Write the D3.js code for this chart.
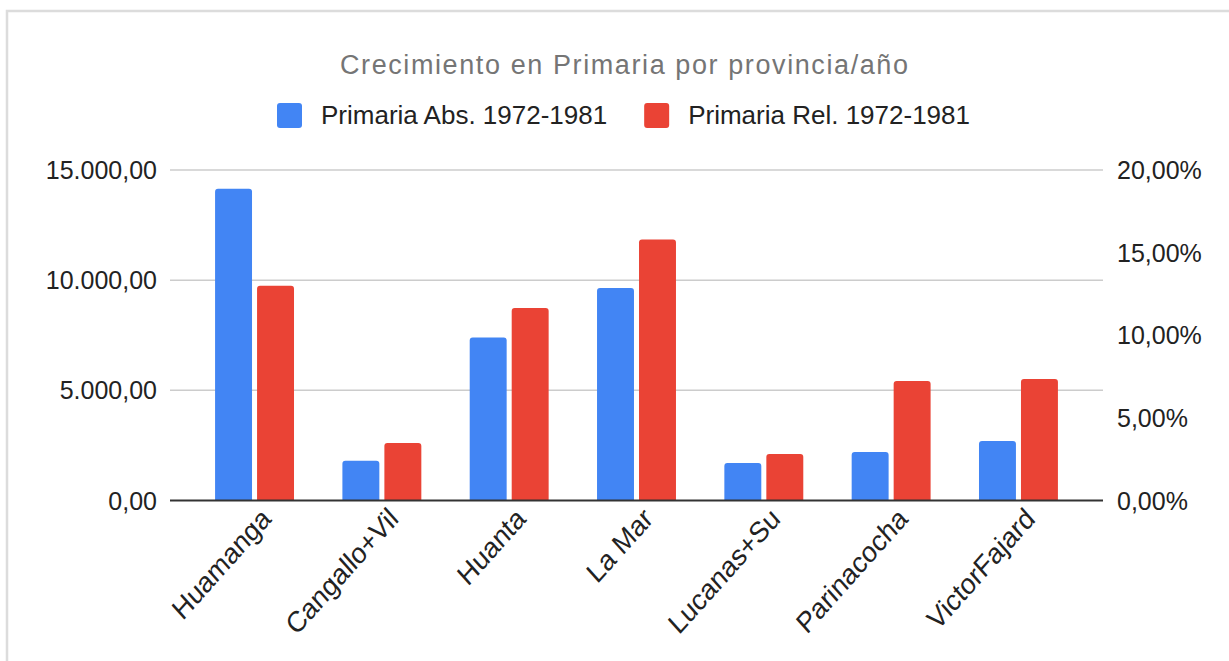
<!DOCTYPE html>
<html>
<head>
<meta charset="utf-8">
<script src="https://cdn.jsdelivr.net/npm/d3@7"></script>
<style>
  html, body { margin: 0; padding: 0; background: #fff; }
  svg { display: block; font-family: "Liberation Sans", Arial, sans-serif; }
</style>
</head>
<body>
<div id="chart"></div>
<script>
// data
const provincias = ["Huamanga", "Cangallo+Vil", "Huanta", "La Mar", "Lucanas+Su", "Parinacocha", "VictorFajard"];
const primariaAbs = [14150, 1800, 7400, 9650, 1700, 2200, 2700];
const primariaRel = [0.130, 0.0348, 0.1165, 0.158, 0.0281, 0.0723, 0.0735];
const seriesNames = ["Primaria Abs. 1972-1981", "Primaria Rel. 1972-1981"];
const leftTicks = [0, 5000, 10000, 15000];
const rightTicks = [0, 0.05, 0.10, 0.15, 0.20];

const W = 1229, H = 661;
const colors = ["#4285f4", "#ea4335"];
const plot = { left: 170, right: 1103, top: 170, bottom: 500.5 };

const es = d3.formatLocale({ decimal: ",", thousands: ".", grouping: [3], currency: ["", ""] });
const fmtNum = es.format(",.2f");
const fmtPct = es.format(".2%");

const svg = d3.select("#chart").append("svg")
    .attr("width", W)
    .attr("height", H);

// frame round the chart
svg.append("path")
    .attr("d", `M7,${H} L7,11 L${W},11`)
    .attr("fill", "none")
    .attr("stroke", "#dcdcdc")
    .attr("stroke-width", 2.5);

const x0 = d3.scaleBand()
    .domain(provincias)
    .range([plot.left, plot.right])
    .paddingInner(0.38)
    .paddingOuter(0.354);

const x1 = d3.scaleBand()
    .domain([0, 1])
    .range([0, x0.bandwidth()])
    .paddingInner(0.12);

const yLeft = d3.scaleLinear().domain([0, 15000]).range([plot.bottom, plot.top]);
const yRight = d3.scaleLinear().domain([0, 0.20]).range([plot.bottom, plot.top]);

// gridlines (left axis only)
svg.append("g")
    .selectAll("line")
    .data(leftTicks.filter(d => d > 0))
    .enter()
    .append("line")
    .attr("x1", plot.left)
    .attr("x2", plot.right)
    .attr("y1", d => yLeft(d))
    .attr("y2", d => yLeft(d))
    .attr("stroke", "#cccccc")
    .attr("stroke-width", 1.5);

// left axis labels
svg.append("g")
    .selectAll("text")
    .data(leftTicks)
    .enter()
    .append("text")
    .attr("x", 157)
    .attr("y", d => yLeft(d) + 9)
    .attr("text-anchor", "end")
    .attr("font-size", 25)
    .attr("fill", "#222")
    .text(d => fmtNum(d));

// right axis labels
svg.append("g")
    .selectAll("text")
    .data(rightTicks)
    .enter()
    .append("text")
    .attr("x", 1117)
    .attr("y", d => yRight(d) + 9)
    .attr("text-anchor", "start")
    .attr("font-size", 25)
    .attr("fill", "#222")
    .text(d => fmtPct(d));

// bar with rounded top corners
function barPath(x, y, w, h, r) {
    r = Math.min(r, h, w / 2);
    return `M${x},${y + h} L${x},${y + r} Q${x},${y} ${x + r},${y} L${x + w - r},${y} Q${x + w},${y} ${x + w},${y + r} L${x + w},${y + h} Z`;
}

const rows = provincias.map((p, i) => ({ name: p, abs: primariaAbs[i], rel: primariaRel[i] }));

const groups = svg.append("g")
    .selectAll("g")
    .data(rows)
    .enter()
    .append("g")
    .attr("transform", d => `translate(${x0(d.name)},0)`);

groups.append("path")
    .attr("fill", colors[0])
    .attr("d", d => barPath(x1(0), yLeft(d.abs), x1.bandwidth(), plot.bottom - yLeft(d.abs), 3));

groups.append("path")
    .attr("fill", colors[1])
    .attr("d", d => barPath(x1(1), yRight(d.rel), x1.bandwidth(), plot.bottom - yRight(d.rel), 3));

// baseline
svg.append("line")
    .attr("x1", plot.left)
    .attr("x2", plot.right)
    .attr("y1", plot.bottom)
    .attr("y2", plot.bottom)
    .attr("stroke", "#333")
    .attr("stroke-width", 2);

// category labels, rotated (the picture is a bit stretched vertically)
svg.append("g")
    .selectAll("text")
    .data(provincias)
    .enter()
    .append("text")
    .attr("transform", d => `translate(${x0(d) + x0.bandwidth() / 2 + 18},${plot.bottom + 20}) scale(1,1.12) rotate(-45)`)
    .attr("text-anchor", "end")
    .attr("font-size", 26)
    .attr("fill", "#222")
    .text(d => d);

// title
svg.append("text")
    .attr("x", 624)
    .attr("y", 74)
    .attr("text-anchor", "middle")
    .attr("font-size", 27)
    .attr("fill", "#757575")
    .attr("textLength", 568)
    .attr("lengthAdjust", "spacing")
    .text("Crecimiento en Primaria por provincia/año");

// legend
const legend = svg.append("g");
let lx = 277;
seriesNames.forEach((name, i) => {
    legend.append("rect")
        .attr("x", lx)
        .attr("y", 103)
        .attr("width", 25)
        .attr("height", 25)
        .attr("rx", 3)
        .attr("fill", colors[i]);
    const t = legend.append("text")
        .attr("x", lx + 44)
        .attr("y", 124)
        .attr("font-size", 26)
        .attr("fill", "#222")
        .text(name);
    lx += 44 + t.node().getComputedTextLength() + 37;
});
</script>
</body>
</html>
